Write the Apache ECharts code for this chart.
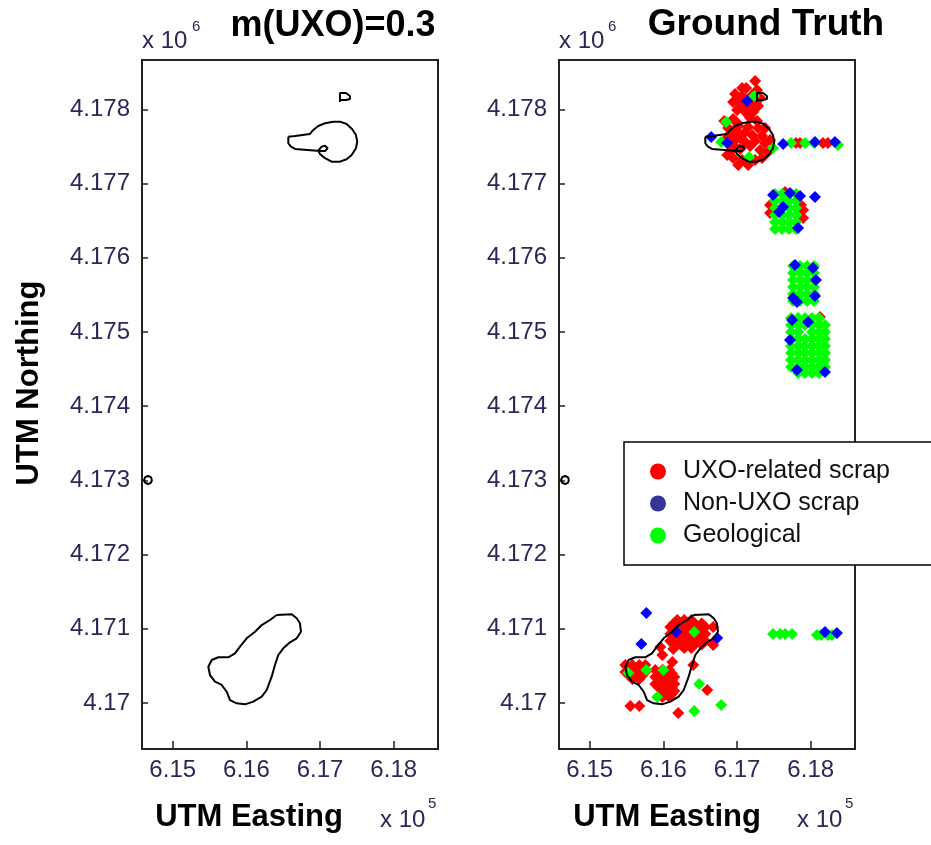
<!DOCTYPE html>
<html><head><meta charset="utf-8">
<script src="https://cdn.jsdelivr.net/npm/echarts@6/dist/echarts.min.js"></script>
<style>html,body{margin:0;padding:0;background:#fff}#c{width:931px;height:845px}</style>
</head><body><div id="c"></div>
<script>
// ---- axis ticks / labels ----
const xTickValues = [615000, 616000, 617000, 618000];
const xTickLabels = ['6.15', '6.16', '6.17', '6.18'];
const yTickValues = [4170000, 4171000, 4172000, 4173000, 4174000, 4175000, 4176000, 4177000, 4178000];
const yTickLabels = ['4.17', '4.171', '4.172', '4.173', '4.174', '4.175', '4.176', '4.177', '4.178'];
const xRange = [614583, 618601];
const yRange = [4169380, 4178667];
const panelTitles = ['m(UXO)=0.3', 'Ground Truth'];
const seriesNames = ['UXO-related scrap', 'Non-UXO scrap', 'Geological'];

// ---- ground truth points [easting, northing] ----
const uxoScrap = [
[617245,4178385],[617123,4178290],[617272,4178263],[616974,4178209],[617069,4178182],[617205,4178196],[617313,4178155],
[616947,4178101],[617042,4178075],[617177,4178061],[617286,4178048],[617110,4177967],[617001,4177994],[617218,4177967],
[617069,4178290],[617015,4178155],[617150,4178128],[617245,4178101],[617096,4178021],
[616825,4177845],[616947,4177872],[617272,4177845],[616879,4177751],[617015,4177778],[617150,4177764],[617286,4177751],
[616906,4177670],[617096,4177684],[617205,4177657],[617340,4177643],[616974,4177589],[617110,4177562],[617245,4177576],
[617381,4177549],[617448,4177589],[616920,4177454],[617042,4177468],[617313,4177454],[617421,4177427],[616947,4177347],
[617069,4177320],[617340,4177347],[617015,4177252],[616866,4177387],
[616988,4177832],[617177,4177886],[617381,4177751],[616839,4177589],[617177,4177508],[616974,4177495],[617245,4177320],
[617150,4177252],[616988,4177710],[617042,4177616],
[617801,4177549],[617855,4177549],[618167,4177549],[618234,4177549],
[617448,4176713],[617448,4176605],[617896,4176646],[617896,4176538],[617868,4176713],[617652,4176888],
[618126,4175203],
[616188,4171119],[616283,4171119],[616378,4171119],
[616093,4171024],[616188,4171024],[616283,4171024],[616378,4171024],[616473,4171024],[616568,4171024],
[616093,4170930],[616188,4170930],[616283,4170930],[616378,4170930],[616473,4170930],[616568,4170930],
[616093,4170836],[616188,4170836],[616283,4170836],[616378,4170836],[616473,4170836],[616568,4170836],
[616283,4170741],[616378,4170741],
[616141,4171072],[616236,4171072],[616331,4171072],[616425,4171072],[616520,4171072],
[616141,4170977],[616236,4170977],[616331,4170977],[616425,4170977],[616520,4170977],
[616141,4170883],[616236,4170883],[616331,4170883],[616425,4170883],[616520,4170883],
[616141,4170789],[616236,4170789],[616331,4170789],[616425,4170789],[616520,4170789],
[616676,4171024],[616676,4170782],[615958,4170755],[616134,4170728],[616121,4170553],[616405,4170512],[616595,4170175],
[615551,4169960],[615673,4169960],[616202,4169865],[615985,4170647],
[615484,4170512],[615579,4170512],[615673,4170512],[615755,4170512],[615484,4170418],[615579,4170418],[615673,4170418],
[615755,4170418],[615579,4170324],[615673,4170324],
[615531,4170465],[615626,4170465],[615714,4170465],[615531,4170371],[615626,4170371],[615714,4170371],
[615890,4170445],[615985,4170445],[616080,4170445],
[615890,4170350],[615985,4170350],[616080,4170350],[616148,4170350],
[615890,4170256],[615985,4170256],[616080,4170256],[616148,4170256],
[615985,4170162],[616080,4170162],[616148,4170162],
[615985,4170081],[616080,4170081],
[615938,4170398],[616033,4170398],[616114,4170398],[615938,4170303],[616033,4170303],[616114,4170303],
[615938,4170209],[616033,4170209],[616114,4170209],[616033,4170121],[616114,4170121]
];
const nonUxoScrap = [
[617137,4178115],[616649,4177630],[616866,4177549],
[617625,4177535],[618058,4177562],[618329,4177562],
[617489,4176848],[617625,4176686],[617570,4176619],[617828,4176403],[617719,4176875],[617855,4176834],[618058,4176821],
[617787,4175904],[618031,4175864],[618072,4175702],[617760,4175459],[618058,4175486],[617814,4175405],
[617747,4175163],[617719,4174893],[618194,4174462],[617963,4175136],[617814,4174489],
[615768,4171213],[615701,4170795],[616175,4170957],[616730,4170876],
[618194,4170957],[618356,4170944]
];
const geological = [
[617232,4178182],[616852,4177832],[616785,4177562],[617489,4177481],[617164,4177360],
[617733,4177549],[617923,4177549],[618045,4177549],[618370,4177522],
[617516,4176861],[617611,4176861],[617706,4176861],[617801,4176861],
[617516,4176767],[617611,4176767],[617706,4176767],[617801,4176767],
[617516,4176673],[617611,4176673],[617706,4176673],[617801,4176673],
[617516,4176578],[617611,4176578],[617706,4176578],[617801,4176578],
[617516,4176484],[617611,4176484],[617706,4176484],[617801,4176484],
[617516,4176390],[617611,4176390],[617706,4176390],[617801,4176390],
[617760,4175891],[617855,4175891],[617950,4175891],[618045,4175891],
[617760,4175796],[617855,4175796],[617950,4175796],[618045,4175796],
[617760,4175702],[617855,4175702],[617950,4175702],[618045,4175702],
[617760,4175608],[617855,4175608],[617950,4175608],[618045,4175608],
[617760,4175513],[617855,4175513],[617950,4175513],[618045,4175513],
[617760,4175419],[617855,4175419],[617950,4175419],[618045,4175419],
[617733,4175190],[617828,4175190],[617923,4175190],[618018,4175190],[618112,4175190],
[617733,4175095],[617828,4175095],[617923,4175095],[618018,4175095],[618112,4175095],[618194,4175095],
[617733,4175001],[617828,4175001],[618018,4175001],[618112,4175001],[618194,4175001],
[617733,4174907],[617828,4174907],[617923,4174907],[618018,4174907],[618112,4174907],[618194,4174907],
[617733,4174812],[617828,4174812],[617923,4174812],[618018,4174812],[618112,4174812],[618194,4174812],
[617733,4174718],[617828,4174718],[617923,4174718],[618018,4174718],[618112,4174718],[618194,4174718],
[617733,4174624],[617828,4174624],[617923,4174624],[618018,4174624],[618112,4174624],[618194,4174624],
[617733,4174529],[617828,4174529],[617923,4174529],[618018,4174529],[618112,4174529],[618194,4174529],
[617828,4174448],[617923,4174448],[618018,4174448],[618112,4174448],
[616419,4170957],[615524,4170404],[615768,4170445],[615999,4170445],[615917,4170081],[616486,4170256],[616419,4169892],[616785,4169973],
[617489,4170930],[617584,4170930],[617652,4170930],[617747,4170930],[618085,4170917],[618140,4170917],[618234,4170917],[618289,4170917]
];

// ---- m(UXO)=0.3 decision contours [easting, northing] ----
const contourHook = [
[616569,4177634],[616660,4177643],[616863,4177670],[616908,4177724],[616976,4177778],[617067,4177814],[617179,4177836],
[617270,4177836],[617361,4177805],[617437,4177733],[617487,4177657],[617505,4177566],[617487,4177477],[617429,4177387],
[617361,4177329],[617270,4177297],[617158,4177297],[617067,4177343],[616999,4177401],[616976,4177445],[617022,4177499],
[617067,4177512],[617103,4177477],[617067,4177441],[616999,4177441],[616660,4177468],[616605,4177499],[616569,4177545],
[616569,4177634]
];
const contourFlag = [[617270,4178101],[617270,4178223],[617352,4178223],[617406,4178182],[617406,4178142],[617352,4178128],[617270,4178128]];
const contourRing = [[614719,4173006],[614703,4173044],[614665,4173060],[614627,4173044],[614611,4173006],[614627,4172968],[614665,4172952],[614703,4172968],[614719,4173006]];
const contourBlob = [
[616411,4171186],[616615,4171196],[616683,4171142],[616727,4171074],[616741,4170961],[616683,4170872],[616592,4170818],
[616501,4170737],[616433,4170647],[616388,4170512],[616343,4170355],[616276,4170175],[616208,4170085],[616094,4170018],
[615981,4169982],[615868,4169996],[615778,4170040],[615733,4170152],[615665,4170243],[615574,4170287],[615506,4170377],
[615483,4170489],[615529,4170580],[615619,4170616],[615754,4170616],[615845,4170670],[615913,4170759],[616004,4170872],
[616117,4170961],[616208,4171051],[616320,4171119],[616411,4171186]
];

const FONT = '"Liberation Sans", Arial, Helvetica, sans-serif';
const LABEL_COLOR = '#2b2858';
const grids = [
  { left: 142, top: 60, width: 296, height: 689 },
  { left: 559, top: 60, width: 296, height: 689 }
];

const xAxes = grids.map((g, i) => ({
  type: 'value', gridIndex: i, min: xRange[0], max: xRange[1],
  splitLine: { show: false },
  axisLine: { show: false },
  axisTick: { show: true, inside: true, length: 8, customValues: xTickValues, lineStyle: { color: '#222', width: 1.5 } },
  axisLabel: { customValues: xTickValues, margin: 9, fontSize: 24, fontFamily: FONT, color: LABEL_COLOR,
    formatter: v => xTickLabels[xTickValues.indexOf(v)] || '' }
}));
const yAxes = grids.map((g, i) => ({
  type: 'value', gridIndex: i, min: yRange[0], max: yRange[1],
  splitLine: { show: false },
  axisLine: { show: false },
  axisTick: { show: true, inside: true, length: 6, customValues: yTickValues, lineStyle: { color: '#222', width: 1.5 } },
  axisLabel: { customValues: yTickValues, margin: 12, fontSize: 24, fontFamily: FONT, color: LABEL_COLOR,
    formatter: v => yTickLabels[yTickValues.indexOf(v)] || '' }
}));

const series = [];
const pointSets = [uxoScrap, geological, nonUxoScrap];
const pointNames = [seriesNames[0], seriesNames[2], seriesNames[1]];
const pointColors = ['#ff0000', '#00ff00', '#0000ff'];
pointSets.forEach((d, k) => series.push({
  type: 'scatter', name: pointNames[k], xAxisIndex: 1, yAxisIndex: 1, data: d,
  symbol: 'diamond', symbolSize: 12, itemStyle: { color: pointColors[k], opacity: 1 }, z: 2 + k
}));
const contours = [contourHook, contourFlag, contourRing, contourBlob];
[0, 1].forEach(gi => contours.forEach(c => series.push({
  type: 'line', xAxisIndex: gi, yAxisIndex: gi, data: c, showSymbol: false, symbol: 'none',
  lineStyle: { color: '#000', width: 2 }, z: 8, silent: true
})));

function txt(text, x, y, size, opts) {
  return Object.assign({ type: 'text', x: x, y: y, z: 30,
    style: Object.assign({ text: text, font: size + 'px ' + FONT, fill: LABEL_COLOR, textAlign: 'left', textVerticalAlign: 'middle' }, opts || {}) });
}
const graphic = [
  txt(panelTitles[0], 333, 26, 0, { font: 'bold 36px ' + FONT, fill: '#000', textAlign: 'center' }),
  txt(panelTitles[1], 766, 25, 0, { font: 'bold 37px ' + FONT, fill: '#000', textAlign: 'center' }),
  txt('x 10', 142, 41, 24), txt('6', 192, 27, 15),
  txt('x 10', 559, 41, 24), txt('6', 608, 27, 15),
  txt('UTM Easting', 249, 817, 0, { font: 'bold 31px ' + FONT, fill: '#000', textAlign: 'center' }),
  txt('UTM Easting', 667, 817, 0, { font: 'bold 31px ' + FONT, fill: '#000', textAlign: 'center' }),
  txt('x 10', 380, 820, 24), txt('5', 428, 804, 15),
  txt('x 10', 797, 820, 24), txt('5', 845, 804, 15),
  { type: 'text', x: 29, y: 383, rotation: Math.PI / 2, z: 30,
    style: { text: 'UTM Northing', font: 'bold 31px ' + FONT, fill: '#000', textAlign: 'center', textVerticalAlign: 'middle' } },
  { type: 'rect', z: 20, shape: { x: 624, y: 442, width: 330, height: 123 },
    style: { fill: '#fff', stroke: '#000', lineWidth: 1.5 } }
];

const chart = echarts.init(document.getElementById('c'), null, { renderer: 'canvas' });
chart.setOption({
  animation: false,
  backgroundColor: '#fff',
  grid: grids.map(g => Object.assign({ show: true, borderColor: '#222', borderWidth: 2, backgroundColor: 'transparent' }, g)),
  xAxis: xAxes,
  yAxis: yAxes,
  legend: {
    z: 40, orient: 'vertical', left: 645, top: 454, itemWidth: 16, itemHeight: 16, itemGap: 7,
    icon: 'circle', selectedMode: false,
    textStyle: { fontSize: 25, fontFamily: FONT, color: '#111', lineHeight: 25, padding: [0, 0, 0, 12] },
    data: [
      { name: seriesNames[0], itemStyle: { color: '#ff0000' } },
      { name: seriesNames[1], itemStyle: { color: '#333399' } },
      { name: seriesNames[2], itemStyle: { color: '#00ff00' } }
    ]
  },
  graphic: graphic,
  series: series
});
</script>
</body></html>
